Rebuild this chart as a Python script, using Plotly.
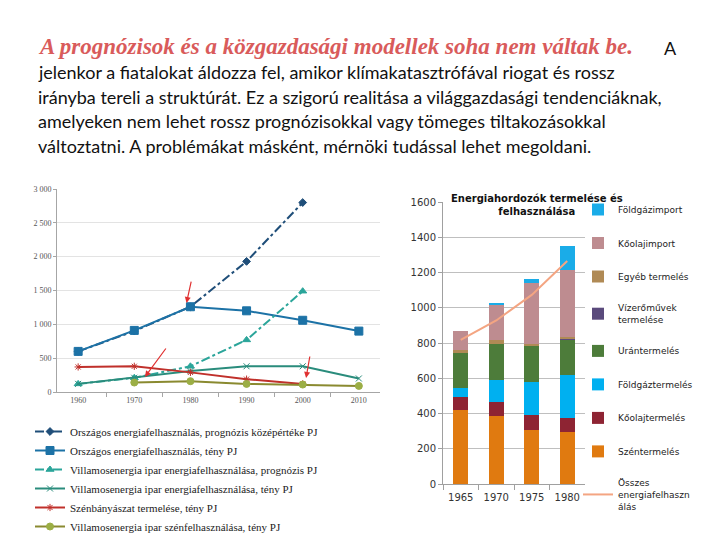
import plotly.graph_objects as go

# ---------------- text block ----------------
HEADLINE = "A prognózisok és a közgazdasági modellek soha nem váltak be."
HEAD_TAIL = "A"
BODY_LINES = [
    "jelenkor a fiatalokat áldozza fel, amikor klímakatasztrófával riogat és rossz",
    "irányba tereli a struktúrát. Ez a szigorú realitása a világgazdasági tendenciáknak,",
    "amelyeken nem lehet rossz prognózisokkal vagy tömeges tiltakozásokkal",
    "változtatni. A problémákat másként, mérnöki tudással lehet megoldani.",
]

# ---------------- left chart data ----------------
YEARS_L = ["1960", "1970", "1980", "1990", "2000", "2010"]
ORSZ_PROGN = [600, 900, 1260, 1930, 2800, None]
ORSZ_TENY = [600, 910, 1260, 1200, 1060, 900]
VILL_PROGN = [120, 210, 380, 770, 1490, None]
VILL_TENY = [120, 210, 310, 380, 380, 200]
SZEN_BANY = [370, 380, 290, 190, 120, None]
VILL_SZEN = [None, 140, 160, 120, 110, 90]
NAMES_L = [
    "Országos energiafelhasználás, prognózis középértéke PJ",
    "Országos energiafelhasználás, tény PJ",
    "Villamosenergia ipar energiafelhasználása, prognózis PJ",
    "Villamosenergia ipar energiafelhasználása, tény PJ",
    "Szénbányászat termelése, tény PJ",
    "Villamosenergia ipar szénfelhasználása, tény PJ",
]
Y_TICKS_L = [0, 500, 1000, 1500, 2000, 2500, 3000]
Y_TICK_LABELS_L = ["0", "500", "1 000", "1 500", "2 000", "2 500", "3 000"]

# ---------------- right chart data ----------------
YEARS_R = ["1965", "1970", "1975", "1980"]
SZENTERMELES = [420, 386, 307, 295]
KOOLAJTERMELES = [74, 78, 83, 80]
FOLDGAZTERMELES = [53, 128, 191, 244]
URANTERMELES = [199, 203, 203, 201]
VIZEROMUVEK = [2, 2, 2, 2]
EGYEB = [10, 21, 8, 12]
KOOLAJIMPORT = [108, 197, 346, 380]
FOLDGAZIMPORT = [0, 13, 25, 135]
OSSZES = [818, 928, 1073, 1265]
NAMES_R = ["Széntermelés", "Kőolajtermelés", "Földgáztermelés", "Urántermelés",
           "Vízerőművek<br>termelése", "Egyéb termelés", "Kőolajimport", "Földgázimport",
           "Összes<br>energiafelhaszn<br>álás"]
RIGHT_TITLE = "Energiahordozók termelése és<br>felhasználása"

fig = go.Figure()

# left chart traces
left_styles = [
    (ORSZ_PROGN, "#1F4E79", "dashdot", "diamond", 6),
    (ORSZ_TENY, "#1C72A6", "solid", "square", 8),
    (VILL_PROGN, "#2BA59A", "dashdot", "triangle-up", 7),
    (VILL_TENY, "#2A8C7C", "solid", "x-thin-open", 6),
    (SZEN_BANY, "#C0302B", "solid", "asterisk-open", 6),
    (VILL_SZEN, "#8A8A30", "solid", "circle", 7),
]
for (vals, col, dash, sym, sz), name in zip(left_styles, NAMES_L):
    mcol = "#9BAE45" if sym == "circle" else col
    fig.add_trace(go.Scatter(
        x=YEARS_L, y=vals, name=name, mode="lines+markers",
        line=dict(color=col, width=2, dash=dash),
        marker=dict(symbol=sym, size=sz, color=mcol, line=dict(color=mcol, width=1)),
        xaxis="x", yaxis="y", legend="legend", connectgaps=False,
    ))

# right chart traces
bar_series = [
    (SZENTERMELES, "#E07A10", 8),
    (KOOLAJTERMELES, "#8E2433", 7),
    (FOLDGAZTERMELES, "#00B0F0", 6),
    (URANTERMELES, "#4D7C3A", 5),
    (VIZEROMUVEK, "#5A4A7C", 4),
    (EGYEB, "#B08A55", 3),
    (KOOLAJIMPORT, "#BE8C90", 2),
    (FOLDGAZIMPORT, "#1AACE8", 1),
]
for (vals, col, rank), name in zip(bar_series, NAMES_R):
    fig.add_trace(go.Bar(
        x=YEARS_R, y=vals, name=name, marker=dict(color=col, line=dict(width=0)),
        xaxis="x2", yaxis="y2", legend="legend2", legendrank=rank, legendgroup=name,
    ))
fig.add_trace(go.Scatter(
    x=YEARS_R, y=OSSZES, name=NAMES_R[8], mode="lines",
    line=dict(color="#F4A582", width=2),
    xaxis="x2", yaxis="y2", legend="legend2", legendrank=9, legendgroup="ossz",
))

W, H = 720, 540
def px(x):
    return x / W
def py(y):
    return 1 - y / H

annotations = [
    dict(text="<b><i>" + HEADLINE + "</i></b>", x=px(36), y=py(47), xref="paper", yref="paper",
         xanchor="left", yanchor="middle", showarrow=False,
         font=dict(family="Liberation Serif", size=23, color="#D95B5B")),
    dict(text=HEAD_TAIL, x=px(662), y=py(48), xref="paper", yref="paper",
         xanchor="left", yanchor="middle", showarrow=False,
         font=dict(family="Lato", size=18, color="#111111")),
]
for i, line in enumerate(BODY_LINES):
    annotations.append(dict(
        text=line, x=px(36), y=py(72 + 24.6 * i), xref="paper", yref="paper",
        xanchor="left", yanchor="middle", showarrow=False,
        font=dict(family="Lato", size=18, color="#111111")))

annotations.append(dict(
    text="<b>" + RIGHT_TITLE + "</b>", x=px(537), y=py(205), xref="paper", yref="paper",
    xanchor="center", yanchor="middle", showarrow=False,
    font=dict(family="DejaVu Sans", size=10, color="#111111")))

# red arrows on the left chart
for hx, hy, ax, ay in [(1.93, 1315, 5, -23), (1.19, 222, 22, -30), (4.06, 207, 4, -23)]:
    annotations.append(dict(
        x=hx, y=hy, xref="x", yref="y", ax=ax, ay=ay, axref="pixel", ayref="pixel",
        text="", showarrow=True, arrowhead=2, arrowsize=1, arrowwidth=1.2,
        arrowcolor="#E03030"))

fig.update_layout(
    width=W, height=H, margin=dict(l=0, r=0, t=0, b=0, autoexpand=False),
    paper_bgcolor="white", plot_bgcolor="white",
    barmode="stack", bargap=0.58,
    annotations=annotations,
    shapes=[dict(type="line", xref="x domain", yref="y", x0=0, x1=1, y0=1500, y1=1500,
                 line=dict(color="#8C8C8C", width=1), layer="below")],
    xaxis=dict(domain=[px(57), px(380)], anchor="y", type="category",
               showline=True, linecolor="#A6A6A6", linewidth=1,
               ticks="outside", tickson="boundaries", ticklen=4, tickcolor="#A6A6A6",
               showgrid=False, tickfont=dict(family="Liberation Serif", size=8, color="#555555")),
    yaxis=dict(domain=[py(392), py(189)], anchor="x", range=[0, 3000],
               tickvals=Y_TICKS_L, ticktext=Y_TICK_LABELS_L,
               showline=True, linecolor="#A6A6A6", linewidth=1,
               ticks="outside", ticklen=3, tickcolor="#A6A6A6",
               showgrid=True, gridcolor="#E3E3E3", zeroline=False,
               tickfont=dict(family="Liberation Serif", size=8, color="#555555")),
    xaxis2=dict(domain=[px(443), px(585)], anchor="y2", type="category",
                showline=True, linecolor="#A0A0A0", linewidth=1,
                ticks="outside", tickson="boundaries", ticklen=5, tickcolor="#A0A0A0",
                ticklabelstandoff=4,
                showgrid=False, tickfont=dict(family="DejaVu Sans", size=10, color="#333333")),
    yaxis2=dict(domain=[py(484), py(202)], anchor="x2", range=[0, 1600], dtick=200,
                showline=True, linecolor="#A0A0A0", linewidth=1,
                ticks="outside", ticklen=4, tickcolor="#A0A0A0",
                showgrid=True, gridcolor="#BFBFBF", zeroline=False,
                tickfont=dict(family="DejaVu Sans", size=10, color="#333333")),
    legend=dict(x=px(30), y=py(417), xanchor="left", yanchor="top",
                bgcolor="rgba(0,0,0,0)", traceorder="normal",
                font=dict(family="Liberation Serif", size=11, color="#222222"),
                itemwidth=30, tracegroupgap=0),
    legend2=dict(x=px(578), y=py(195), xanchor="left", yanchor="top",
                 bgcolor="rgba(0,0,0,0)", traceorder="grouped",
                 font=dict(family="DejaVu Sans", size=9, color="#222222"),
                 itemwidth=30, tracegroupgap=14.5),
    showlegend=True,
)

fig.write_html("out.html", config={"displayModeBar": False},
               post_script="document.body.style.margin='0';document.body.style.padding='0';")
